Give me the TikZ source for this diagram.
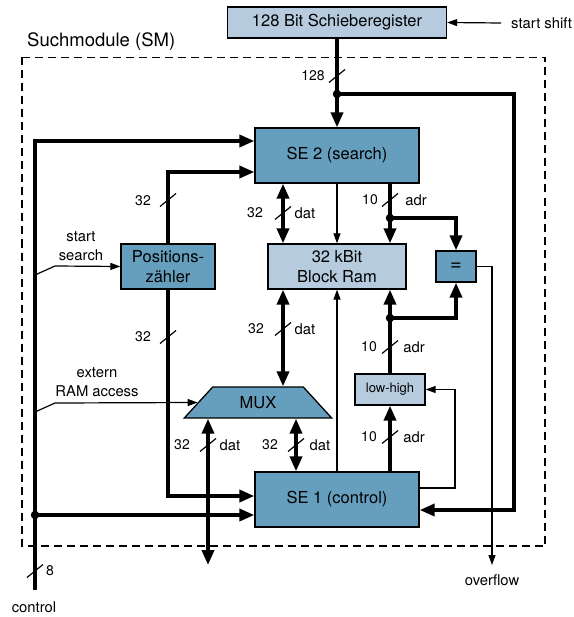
\documentclass[tikz,border=0pt]{standalone}
\usepackage{fontspec}
\setmainfont{TeX Gyre Heros}
\usepackage{tikz}
\usetikzlibrary{arrows.meta,shapes.geometric,calc}
\definecolor{sedark}{RGB}{102,159,189}
\definecolor{selight}{RGB}{182,204,222}

\begin{document}
\begin{tikzpicture}[x=1pt,y=-1pt,
  blk/.style={draw,line width=1.3pt,fill=sedark,align=center,inner sep=0pt,font=\fontsize{16.5}{20}\selectfont},
  mem/.style={blk,fill=selight},
  lbl/.style={font=\fontsize{14.8}{18.5}\selectfont,align=center,inner sep=0pt},
  num/.style={font=\fontsize{14}{16}\selectfont,inner sep=0pt},
  sig/.style={line width=1.2pt,-{Triangle[length=10pt,width=7pt]}},
  bus/.style={line width=3.6pt,-{Triangle[length=15pt,width=12pt]}},
  bibus/.style={line width=3.6pt,{Triangle[length=15pt,width=12pt]}-{Triangle[length=15pt,width=12pt]}},
  dot/.style={circle,fill,inner sep=0pt,minimum size=8.5pt},
  wmark/.pic={\draw[line width=1.2pt] (-8,6.5) -- (8,-6.5);}
]
\useasboundingbox (0,0) rectangle (573,617);
% Module frame
\draw[line width=1.3pt,dash pattern=on 8pt off 5pt] (22,57.5) rectangle (545,546);
\node[font=\fontsize{18.5}{20}\selectfont,anchor=west,inner sep=0pt] (sm) at (27,42) {Suchmodule (SM)};

% Blocks
\node[mem,minimum width=219pt,minimum height=31pt] (sr)  at (337,22.5)  {128 Bit Schieberegister};
\node[blk,minimum width=164pt,minimum height=55pt] (se2) at (337,155.5) {SE 2 (search)};
\node[blk,minimum width=94pt,minimum height=45pt]  (pz)  at (168,266.5) {Positions-\\zähler};
\node[mem,minimum width=138pt,minimum height=45pt] (ram) at (337,266.5) {32 kBit\\Block Ram};
\node[blk,minimum width=40pt,minimum height=31pt,font=\fontsize{20}{20}\selectfont] (eq) at (456,266.5) {=};
\node[mem,minimum width=70pt,minimum height=31pt,font=\fontsize{13}{15}\selectfont] (lh) at (390,389.5) {low-high};
\node[blk,trapezium,trapezium angle=47,trapezium stretches=true,minimum width=148pt,minimum height=31pt] (mux) at (258,402.5) {MUX};
\node[blk,minimum width=164pt,minimum height=55pt] (se1) at (337,499.5) {SE 1 (control)};

% Outside signals
\node[lbl,anchor=west] (st)  at (511,23)  {start shift};
\node[lbl]             (ssl) at (81,246)  {start\\search};
\node[lbl]             (erl) at (97,382)  {extern\\RAM access};
\node[lbl]             (ctl) at (34,607)  {control};
\node[lbl]             (ovl) at (492,580) {overflow};

% Junctions and free ends
\node[dot] (j1) at (337,94) {};
\node[dot] (ja) at (390,218) {};
\node[dot] (jb) at (390,318) {};
\node[dot] (jc) at (35,515) {};
\coordinate (cb) at (35,590);
\coordinate (rb) at (514,510);
\coordinate (ss) at (35,275);
\coordinate (er) at (35,412);
\coordinate (ov) at (492,565);
\coordinate (xd) at (208,565);
\coordinate (d1) at (283,0);
\coordinate (d2) at (296,0);
\coordinate (fb) at (455,0);

% Buses
\draw[bus] (sr.south) -- (se2.north);
\draw[bus] (j1.center) -| (rb) -- (rb -| se1.east);
\draw[bus] (cb) |- ([yshift=14.5pt]se2.west);
\draw[bus] (jc.center) -- (jc -| se1.west);
\draw[bus] (pz.north) |- ([yshift=-16.5pt]se2.west);
\draw[bus] (pz.south) |- ([yshift=3.5pt]se1.west);
\draw[bibus] (d1 |- se2.south) -- (d1 |- ram.north);
\draw[bibus] (d1 |- ram.south) -- (d1 |- mux.north);
\draw[bibus] (xd |- mux.south) -- (xd);
\draw[bibus] (d2 |- mux.south) -- (d2 |- se1.north);
\draw[bus] (ja |- se2.south) -- (ja |- ram.north);
\draw[bus] (ja.center) -| (eq.north);
\draw[bus] (lh.north) -- (lh.north |- ram.south);
\draw[bus] (jb.center) -| (eq.south);
\draw[bus] (lh.south |- se1.north) -- (lh.south);

% Single lines
\draw[sig] ([xshift=-10pt]st.west) -- (sr.east);
\draw[sig] (se2.south) -- (ram.north);
\draw[sig] (se1.north) -- (ram.south);
\draw[sig] (ss) -- ++(20,-9) -- (pz.west);
\draw[sig] (er) -- ++(20,-9) -- (mux.west);
\draw[sig] ([yshift=11.5pt]se1.east) -| (fb |- lh.east) -- (lh.east);
\draw[sig] (eq.east) -| (ov);

% Bus widths
\pic at (337,76) {wmark};  \node[num] (w1) at (313,76) {128};
\pic at (168,200) {wmark}; \node[num] (w2) at (143,201) {32};
\pic at (168,337) {wmark}; \node[num] (w3) at (143,337) {32};
\pic at (283,213) {wmark}; \node[num] (w4) at (255,213) {32}; \node[lbl] (s4) at (305,213) {dat};
\pic at (283,329) {wmark}; \node[num] (w5) at (256,329) {32}; \node[lbl] (s5) at (305,329) {dat};
\pic at (390,200) {wmark}; \node[num] (w6) at (370,200) {10}; \node[lbl] (s6) at (416,200) {adr};
\pic at (390,347) {wmark}; \node[num] (w7) at (369,347) {10}; \node[lbl] (s7) at (414,347) {adr};
\pic at (390,437) {wmark}; \node[num] (w8) at (369,437) {10}; \node[lbl] (s8) at (414,437) {adr};
\pic at (208,445) {wmark}; \node[num] (w9) at (182,445) {32}; \node[lbl] (s9) at (230,445) {dat};
\pic at (296,445) {wmark}; \node[num] (w10) at (270,445) {32}; \node[lbl] (s10) at (320,445) {dat};
\pic at (35,571) {wmark};  \node[num] (w11) at (50,571) {8};
\end{tikzpicture}
\end{document}
